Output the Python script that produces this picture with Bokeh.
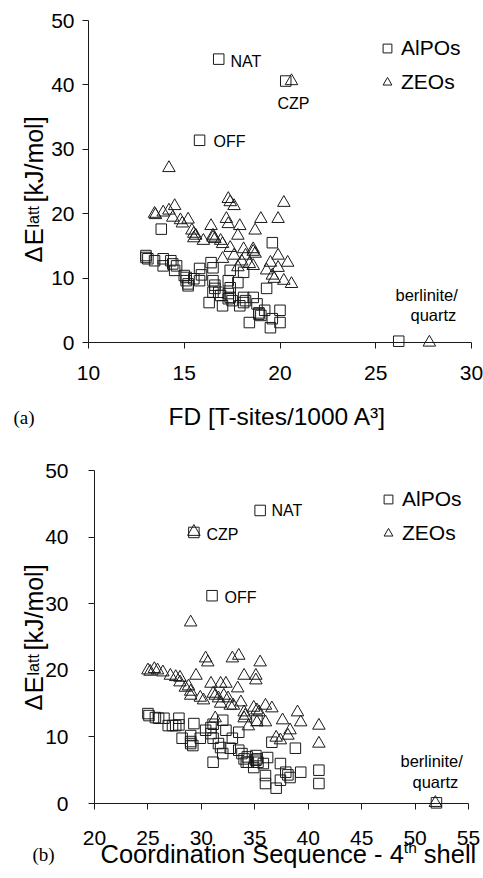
from bokeh.plotting import figure
from bokeh.models import Range1d, FixedTicker, Label, Legend, LegendItem, ColumnDataSource
from bokeh.layouts import column
from bokeh.embed import file_html
from bokeh.resources import INLINE
import math

# ---------------- data: (a) framework density ----------------
fd_alpo_x = [16.8, 20.3, 15.8, 26.2, 13.8,
             13.0, 13.0, 13.1, 13.45, 13.9, 13.9, 14.3, 14.4, 14.5, 14.6,
             15.0, 15.1, 15.1, 15.2, 15.2, 15.5, 15.8, 15.9, 15.8,
             16.4, 16.5, 16.3, 16.5, 16.6, 16.5, 16.6, 16.8, 16.9, 17.0,
             17.3, 17.4, 17.5, 17.3, 17.3, 17.4, 17.4, 17.8, 17.9,
             18.1, 18.2, 18.1, 18.1, 18.4, 18.6, 18.8, 18.9, 19.0, 18.9,
             19.2, 19.3, 19.6, 19.5, 19.6, 20.0, 20.0]
fd_alpo_y = [44.0, 40.6, 31.4, 0.2, 17.6,
             13.5, 13.2, 13.0, 12.7, 13.0, 11.9, 12.7, 12.2, 11.2, 11.9,
             10.4, 9.6, 10.1, 9.1, 8.8, 9.9, 11.5, 10.5, 9.6,
             12.4, 11.6, 6.2, 9.6, 8.4, 7.8, 8.9, 7.8, 7.3, 5.7,
             7.6, 7.0, 6.5, 6.8, 9.6, 8.5, 11.2, 9.3, 5.7,
             7.0, 6.5, 6.2, 10.9, 3.1, 7.0, 6.0, 4.6, 4.2, 4.4,
             5.0, 8.4, 15.5, 2.3, 3.7, 5.0, 3.1]

fd_zeo_x = [20.6, 14.2, 27.8,
            13.45, 13.5, 13.9, 14.5, 14.2, 14.4, 14.9, 14.8, 15.2,
            15.4, 15.5, 15.6, 15.5, 16.0, 16.4, 16.5, 16.5, 16.6,
            16.9, 17.0, 17.0, 17.2, 17.3, 17.3, 17.4, 17.6,
            17.4, 17.6, 17.8, 17.9, 17.8, 18.1, 18.2, 18.0,
            18.4, 18.6, 18.6, 18.7, 18.7, 19.0, 18.6,
            19.3, 19.5, 19.6, 19.7, 19.9, 19.9, 19.9,
            20.2, 20.4, 20.2, 20.6]
fd_zeo_y = [40.6, 27.1, 0.0,
            20.0, 19.8, 20.2, 21.2, 20.5, 19.4, 18.5, 19.0, 19.1,
            17.4, 16.9, 16.6, 16.2, 15.8, 18.1, 16.6, 16.3, 16.1,
            15.8, 15.3, 13.0, 19.2, 18.4, 22.3, 21.8, 21.2,
            14.7, 13.5, 11.7, 18.1, 16.6, 14.5, 13.5, 12.6,
            12.2, 14.5, 14.1, 13.8, 17.4, 19.2, 11.9,
            11.2, 12.4, 10.4, 9.9, 19.2, 13.5, 11.6,
            21.7, 12.4, 9.6, 9.1]

# ---------------- data: (b) coordination sequence ----------------
cs_alpo_x = [35.5, 29.3, 31.0, 52.0,
             25.0, 25.1, 25.7, 26.0, 26.5, 26.9, 27.3, 27.6, 27.9, 27.9,
             28.2, 29.0, 29.0, 29.2, 29.0, 29.3, 29.9, 30.4, 30.9, 30.9, 31.1, 31.1, 31.1,
             31.6, 31.8, 32.0, 32.0, 32.3, 32.7, 32.9, 33.5, 33.5,
             33.8, 34.0, 34.2, 34.3, 34.4, 35.1, 35.2, 35.3, 35.1, 34.9, 35.2,
             35.8, 36.0, 36.0, 36.2, 36.6, 37.0, 37.4, 37.4, 37.9, 38.1, 38.3, 38.8, 39.3,
             41.0, 41.0]
cs_alpo_y = [44.0, 40.7, 31.2, 0.1,
             13.5, 13.2, 12.9, 12.8, 12.8, 11.7, 11.7, 11.7, 11.8, 12.8,
             9.8, 10.2, 9.3, 8.7, 9.0, 12.0, 9.8, 11.0, 11.4, 10.5, 9.8, 11.9, 6.2,
             9.0, 8.4, 7.5, 12.5, 11.0, 8.3, 9.8, 10.7, 8.0,
             7.5, 6.7, 6.2, 7.0, 6.2, 7.2, 6.7, 6.2, 6.5, 5.4, 12.5,
             6.0, 4.2, 3.0, 6.9, 9.2, 2.3, 6.0, 3.5, 4.7, 4.3, 3.9, 8.3, 4.7,
             5.0, 3.0]

cs_zeo_x = [29.3, 29.0, 51.9,
            25.0, 25.2, 25.6, 25.9, 26.4, 27.1, 27.6, 28.0, 28.0,
            28.5, 28.8, 29.0, 29.0, 29.5, 29.9, 30.2, 30.4, 30.6,
            30.9, 31.1, 31.3, 31.6, 31.8, 31.8, 32.3, 31.3,
            32.1, 32.5, 32.7, 33.0, 32.9, 33.5, 33.4, 33.7, 34.0,
            34.0, 34.1, 34.0, 34.4, 35.1, 35.1, 34.9, 35.2, 35.4, 35.5, 35.2,
            36.0, 36.0, 36.6, 37.0, 37.4, 37.6, 38.1, 38.3, 39.0, 39.3, 41.0, 41.0]
cs_zeo_y = [40.8, 27.2, 0.1,
            20.0, 19.8, 20.2, 20.0, 19.7, 19.2, 19.0, 18.9, 18.2,
            17.4, 17.6, 16.8, 16.2, 19.2, 15.9, 15.5, 21.8, 21.2,
            18.0, 16.5, 16.2, 15.8, 15.0, 18.0, 18.0, 12.8,
            16.2, 15.8, 14.7, 14.7, 21.8, 22.2, 17.3, 15.2, 19.2,
            13.7, 13.2, 12.8, 11.6, 19.2, 18.5, 14.4, 14.0, 13.7, 21.2, 12.2,
            14.7, 12.2, 14.3, 9.9, 9.5, 12.5, 10.2, 11.0, 13.7, 12.2, 11.7, 9.0]

fd_ticks = [10, 15, 20, 25, 30]
cs_ticks = [20, 25, 30, 35, 40, 45, 50, 55]
e_ticks = [0, 10, 20, 30, 40, 50]
series_names = ["AlPOs", "ZEOs"]

SANS = "Liberation Sans"
SERIF = "Liberation Serif"
INK = "#1a1a1a"
W = 483


def make_fig(height, xr, yr, xticks, x_standoff, y_standoff):
    # the frame fills the whole canvas; the axes sit at fixed data locations
    p = figure(width=W, height=height,
               x_range=Range1d(*xr), y_range=Range1d(*yr),
               output_backend="svg", toolbar_location=None,
               min_border=0, min_border_left=0, min_border_right=0,
               min_border_top=0, min_border_bottom=0)
    p.title.visible = False
    p.outline_line_color = None
    p.xgrid.visible = False
    p.ygrid.visible = False
    p.background_fill_color = "white"
    p.border_fill_color = "white"
    p.xaxis.ticker = FixedTicker(ticks=xticks)
    p.yaxis.ticker = FixedTicker(ticks=e_ticks)
    p.xaxis.fixed_location = e_ticks[0]
    p.xaxis.bounds = (xticks[0], xticks[-1])
    p.yaxis.fixed_location = xticks[0]
    p.yaxis.bounds = (e_ticks[0], e_ticks[-1])
    for ax, so in ((p.xaxis, x_standoff), (p.yaxis, y_standoff)):
        ax.axis_line_color = INK
        ax.axis_line_width = 1
        ax.major_tick_line_color = INK
        ax.major_tick_out = 6
        ax.major_tick_in = 0
        ax.minor_tick_line_color = None
        ax.major_label_text_font = SANS
        ax.major_label_text_font_size = "21px"
        ax.major_label_text_color = "black"
        ax.major_label_standoff = so
    return p


def add_series(p, ax_, ay_, zx_, zy_, loc):
    s1 = ColumnDataSource(dict(x=ax_, y=ay_))
    s2 = ColumnDataSource(dict(x=zx_, y=zy_))
    r1 = p.scatter("x", "y", source=s1, marker="square", size=10.5,
                   fill_color=None, line_color=INK, line_width=1)
    r2 = p.scatter("x", "y", source=s2, marker="triangle", size=12.5,
                   fill_color=None, line_color=INK, line_width=1)
    leg = Legend(items=[LegendItem(label=series_names[0], renderers=[r1]),
                        LegendItem(label=series_names[1], renderers=[r2])],
                 location=loc, orientation="vertical",
                 glyph_width=22, glyph_height=22, label_standoff=3,
                 spacing=10, padding=0, margin=0,
                 border_line_color=None, background_fill_alpha=0,
                 label_text_font=SANS, label_text_font_size="21px",
                 label_text_color="black")
    p.add_layout(leg, "center")


def lab(p, fx, fy, px, py, text, size, font=SANS, baseline="middle",
        align="left", angle=0.0):
    p.add_layout(Label(x=fx(px), y=fy(py), text=text, text_font=font,
                       text_font_size=size, text_color="black",
                       text_baseline=baseline, text_align=align, angle=angle))


A = math.pi / 2


# ---------------- figure (a): page rows 0..436 ----------------
def fx1(px):
    return 10 + (px - 88) / 383 * 20


def fy1(py):
    return (342 - py) / 322 * 50


H1 = 436
p1 = make_fig(H1, (fx1(0), fx1(W)), (fy1(H1), fy1(0)), fd_ticks, 17, 8)
add_series(p1, fd_alpo_x, fd_alpo_y, fd_zeo_x, fd_zeo_y, (376, H1 - 94))

lab(p1, fx1, fy1, 230, 61, "NAT", "16px")
lab(p1, fx1, fy1, 277, 102.5, "CZP", "16px")
lab(p1, fx1, fy1, 213, 141, "OFF", "16px")
lab(p1, fx1, fy1, 395, 294.5, "berlinite/", "16.5px")
lab(p1, fx1, fy1, 410, 314, "quartz", "16.5px")
lab(p1, fx1, fy1, 168, 416, "FD [T-sites/1000 A\u00b3]", "24.5px")
lab(p1, fx1, fy1, 13, 417, "(a)", "19px", font=SERIF)
lab(p1, fx1, fy1, 33, 262, "\u0394", "24px", baseline="alphabetic", angle=A)
lab(p1, fx1, fy1, 33, 245, "E", "26px", baseline="alphabetic", angle=A)
lab(p1, fx1, fy1, 33, 227, "latt", "16px", baseline="alphabetic", angle=A)
lab(p1, fx1, fy1, 33, 202, "[kJ/mol]", "25px", baseline="alphabetic", angle=A)


# ---------------- figure (b): page rows 436..878 ----------------
def fx2(px):
    return 20 + (px - 94) / 374 * 35


def fy2(py):
    return (803 - py) / 333 * 50


T2 = 436
H2 = 878 - T2
p2 = make_fig(H2, (fx2(0), fx2(W)), (fy2(T2 + H2), fy2(T2)), cs_ticks, 21, 20)
add_series(p2, cs_alpo_x, cs_alpo_y, cs_zeo_x, cs_zeo_y, (377, 878 - 545))

lab(p2, fx2, fy2, 271, 510, "NAT", "16px")
lab(p2, fx2, fy2, 206, 534, "CZP", "16px")
lab(p2, fx2, fy2, 224, 597, "OFF", "16px")
lab(p2, fx2, fy2, 400, 760, "berlinite/", "16.5px")
lab(p2, fx2, fy2, 412, 781, "quartz", "16.5px")
x0 = 100
fs_main = 25.5
fs_sup = 15.5
w_main = 11.895 * fs_main
w_sup = 0.834 * fs_sup
w_space = 0.278 * fs_main
lab(p2, fx2, fy2, x0, 853, "Coordination Sequence - 4", "25.5px")
lab(p2, fx2, fy2, x0 + w_main, 847, "th", "15.5px")
lab(p2, fx2, fy2, x0 + w_main + w_sup + w_space, 853, "shell", "25.5px")
lab(p2, fx2, fy2, 32, 854, "(b)", "19px", font=SERIF)
lab(p2, fx2, fy2, 33, 710, "\u0394", "24px", baseline="alphabetic", angle=A)
lab(p2, fx2, fy2, 33, 693, "E", "26px", baseline="alphabetic", angle=A)
lab(p2, fx2, fy2, 33, 675, "latt", "16px", baseline="alphabetic", angle=A)
lab(p2, fx2, fy2, 33, 650, "[kJ/mol]", "25px", baseline="alphabetic", angle=A)

layout = column(p1, p2, spacing=0)
open("out.html", "w").write(file_html(layout, INLINE))
